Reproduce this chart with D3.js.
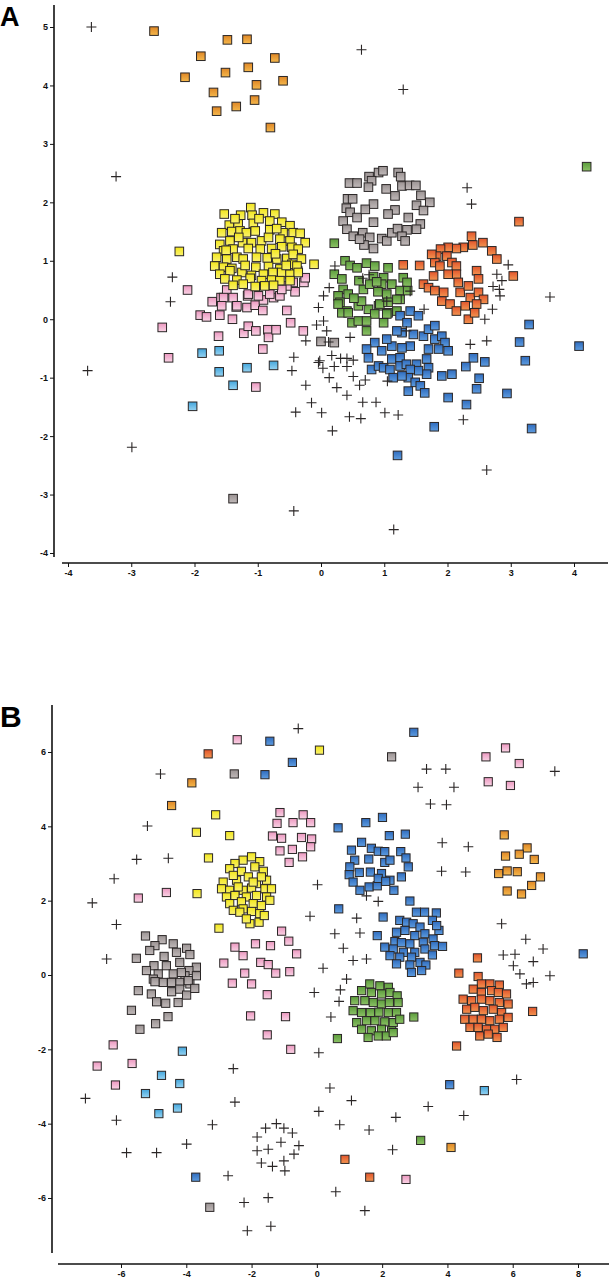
<!DOCTYPE html>
<html><head><meta charset="utf-8">
<script src="https://cdn.jsdelivr.net/npm/d3@7"></script>
<style>html,body{margin:0;padding:0;background:#fff}</style>
</head><body>
<svg id="c" width="613" height="1280"></svg>
<script>
// ---------- Panel A data ----------
const aTicksX = [-4,-3,-2,-1,0,1,2,3,4];
const aTicksY = [-4,-3,-2,-1,0,1,2,3,4,5];
const aOrange = [[-2.64,4.93],[-1.48,4.78],[-1.17,4.79],[-1.90,4.50],[-0.73,4.47],[-2.15,4.14],[-1.51,4.22],[-1.15,4.31],[-0.60,4.08],[-1.02,4.01],[-1.70,3.88],[-1.05,3.75],[-1.34,3.64],[-1.65,3.56],[-0.80,3.28]];
const aRed = [[3.13,1.67],[3.04,0.74],[1.30,0.93],[2.38,1.42],[2.56,1.31],[2.25,1.23],[2.40,1.27],[2.70,1.17],[2.78,1.03],[2.14,1.21],[2.01,1.23],[1.89,1.20],[1.83,1.08],[1.80,0.97],[1.56,0.92],[1.75,1.11],[1.99,1.08],[2.07,0.97],[1.88,0.91],[2.14,0.91],[1.78,0.74],[1.62,0.60],[1.70,0.54],[1.80,0.49],[1.94,0.46],[1.91,0.31],[2.04,0.26],[2.20,0.46],[2.33,0.57],[2.14,0.77],[2.01,0.77],[2.17,0.63],[2.36,0.37],[2.49,0.46],[2.57,0.34],[2.46,0.26],[2.28,0.23],[2.14,0.14],[2.46,0.83],[2.49,0.69],[2.33,0.00],[2.43,0.11]];
const aYellow = [[-1.53,1.80],[-1.27,1.78],[-1.11,1.91],[-1.09,1.78],[-0.91,1.82],[-0.73,1.80],[-1.45,1.61],[-1.31,1.63],[-1.07,1.64],[-0.81,1.68],[-0.62,1.66],[-0.49,1.60],[-1.57,1.48],[-1.41,1.50],[-1.28,1.51],[-1.18,1.48],[-1.04,1.51],[-0.81,1.53],[-0.60,1.48],[-0.44,1.48],[-0.33,1.47],[-1.60,1.28],[-1.44,1.34],[-1.24,1.31],[-1.10,1.31],[-0.94,1.34],[-0.83,1.40],[-0.65,1.37],[-0.49,1.34],[-0.25,1.31],[-1.54,1.17],[-1.39,1.20],[-1.15,1.21],[-0.96,1.20],[-0.78,1.21],[-0.62,1.24],[-0.46,1.23],[-0.36,1.20],[-1.65,1.06],[-1.49,1.03],[-1.33,1.06],[-1.23,1.03],[-1.02,1.06],[-0.70,1.03],[-0.54,1.04],[-0.44,1.11],[-0.31,1.03],[-0.11,0.94],[-1.68,0.91],[-1.54,0.89],[-1.41,0.87],[-1.03,0.89],[-0.83,0.91],[-0.65,0.86],[-0.46,0.94],[-0.38,0.91],[-1.60,0.77],[-1.44,0.83],[-1.25,0.80],[-1.10,0.75],[-0.91,0.77],[-0.76,0.80],[-0.62,0.80],[-0.49,0.77],[-0.36,0.80],[-1.52,0.69],[-1.33,0.67],[-1.12,0.70],[-0.94,0.66],[-0.78,0.67],[-0.65,0.66],[-0.49,0.66],[-1.39,0.58],[-1.23,0.60],[-1.04,0.56],[-0.89,0.57],[-0.75,0.58],[-2.24,1.16],[-1.36,1.72],[-0.98,1.72],[-0.70,1.55],[-1.50,1.18],[-0.85,1.05],[-1.20,0.92],[-0.55,0.92],[-1.30,1.40],[-0.72,1.12]];
const aPink = [[-2.11,0.50],[-2.51,-0.14],[-2.41,-0.66],[-1.91,0.07],[-1.81,0.04],[-1.60,0.07],[-1.72,0.30],[-1.58,0.37],[-1.49,0.50],[-1.40,0.00],[-1.39,0.37],[-1.34,0.21],[-1.17,0.20],[-1.16,0.40],[-1.04,0.24],[-0.92,0.15],[-0.91,0.33],[-0.99,0.40],[-0.75,0.37],[-0.65,0.40],[-0.54,0.15],[-0.48,-0.06],[-0.41,0.47],[-0.44,0.63],[-0.28,-0.20],[-1.62,-0.29],[-1.22,-0.24],[-1.15,-0.12],[-1.03,-0.20],[-0.84,-0.18],[-0.83,-0.31],[-0.71,-0.18],[-0.92,-0.51],[-1.03,-1.16],[-0.27,0.63],[-0.37,0.83],[-0.25,0.71],[-0.54,0.57],[-0.62,0.51],[-0.81,0.43],[-1.15,0.43],[-1.33,0.23],[-1.54,0.37],[-1.57,0.23]];
const aLightBlue = [[-1.88,-0.58],[-1.61,-0.54],[-1.61,-0.90],[-1.39,-1.13],[-1.17,-0.83],[-0.75,-0.79],[-2.03,-1.49]];
const aGray = [[0.91,2.51],[0.98,2.54],[0.76,2.44],[0.80,2.37],[1.22,2.51],[1.26,2.44],[0.45,2.33],[0.57,2.33],[0.75,2.26],[1.28,2.28],[1.40,2.29],[1.50,2.29],[1.03,2.23],[1.17,2.11],[1.58,2.12],[1.72,2.00],[0.42,2.06],[0.50,2.06],[0.83,1.97],[0.40,1.90],[0.46,1.83],[0.57,1.74],[0.70,1.88],[1.17,1.87],[1.06,1.80],[1.51,1.95],[1.62,1.86],[0.35,1.68],[0.41,1.54],[1.38,1.74],[1.57,1.63],[0.83,1.66],[0.66,1.48],[0.77,1.40],[0.51,1.42],[0.96,1.38],[1.04,1.34],[1.12,1.48],[1.21,1.55],[1.36,1.53],[1.28,1.42],[1.33,1.34],[1.51,1.54],[0.68,1.27],[0.83,1.21],[0.61,1.37],[-1.39,-3.07],[0.00,-0.38],[0.21,-0.40]];
const aGreen = [[0.21,1.30],[0.38,1.00],[0.46,0.92],[0.57,0.88],[0.72,0.96],[0.85,0.91],[1.06,0.88],[1.30,0.71],[1.36,0.63],[0.21,0.77],[0.33,0.69],[0.35,0.51],[0.43,0.43],[0.67,0.51],[0.83,0.73],[0.99,0.71],[0.96,0.60],[0.77,0.60],[1.12,0.60],[1.25,0.49],[1.04,0.43],[1.25,0.34],[0.27,0.40],[0.30,0.29],[0.41,0.14],[0.59,0.23],[0.75,0.17],[0.91,0.23],[1.06,0.11],[1.20,0.14],[0.27,0.26],[0.33,0.11],[0.43,0.11],[0.49,-0.06],[0.64,0.31],[0.93,0.26],[1.06,0.29],[1.20,0.34],[0.85,0.09],[1.04,0.09],[0.59,-0.03],[0.72,-0.03],[0.99,-0.06],[0.72,-0.20],[0.60,0.66],[0.88,0.64],[0.52,0.36],[0.90,0.47],[1.37,0.49],[4.20,2.61]];
const aBlue = [[1.41,0.14],[1.54,0.06],[1.25,0.06],[1.36,-0.06],[1.28,-0.23],[1.20,-0.20],[1.46,-0.26],[1.62,-0.29],[1.70,-0.17],[1.80,-0.11],[1.80,-0.34],[1.91,-0.29],[1.96,-0.40],[1.86,-0.51],[2.01,-0.54],[1.70,-0.51],[1.41,-0.46],[1.28,-0.49],[1.12,-0.46],[1.04,-0.34],[0.85,-0.40],[0.72,-0.51],[0.96,-0.54],[0.75,-0.66],[0.80,-0.86],[0.91,-0.80],[0.99,-0.83],[1.09,-0.86],[1.12,-0.68],[1.25,-0.66],[1.25,-0.80],[1.35,-0.77],[1.51,-0.77],[1.67,-0.68],[1.70,-0.83],[1.67,-0.94],[1.54,-0.88],[1.41,-0.86],[1.38,-1.00],[1.28,-0.97],[1.14,-1.00],[1.49,-1.08],[1.57,-1.14],[1.38,-1.23],[1.64,-1.26],[1.91,-0.97],[2.07,-0.94],[2.01,-1.34],[2.41,-0.66],[2.29,-0.81],[2.59,-0.73],[2.50,-1.01],[2.46,-1.19],[2.30,-1.46],[2.94,-1.27],[1.79,-1.84],[1.21,-2.33],[3.33,-1.87],[3.29,-0.09],[3.14,-0.39],[3.23,-0.71],[4.08,-0.46]];
const aCross = [[-3.63,5.00],[-3.24,2.44],[-2.35,0.72],[0.64,4.61],[1.30,3.93],[2.31,2.25],[2.38,1.97],[2.96,0.93],[3.62,0.38],[-2.38,0.30],[-3.69,-0.88],[-2.99,-2.19],[-0.43,-3.28],[-0.43,-0.65],[-0.46,-0.88],[-0.24,-1.13],[-0.15,-1.43],[-0.40,-1.59],[-0.24,-0.37],[-0.07,-0.10],[-0.04,0.20],[-0.04,-0.74],[0.13,0.54],[0.04,0.40],[0.04,-0.03],[0.09,-0.20],[0.46,-0.31],[0.17,-0.62],[-0.02,-0.71],[0.03,-0.84],[0.21,-0.81],[0.31,-0.67],[0.41,-0.67],[0.51,-0.70],[0.41,-0.81],[0.13,-1.00],[0.51,-0.98],[0.61,-1.13],[0.70,-1.04],[0.25,-1.17],[0.41,-1.30],[0.66,-1.42],[0.87,-1.42],[0.01,-1.60],[0.45,-1.67],[0.63,-1.70],[1.01,-1.60],[1.22,-1.64],[0.18,-1.91],[1.05,-1.06],[2.36,-0.43],[2.62,-0.37],[2.25,-1.72],[2.62,-2.58],[1.15,-3.60],[2.82,0.51],[2.83,0.40],[2.72,0.56],[2.71,0.17],[2.59,0.00],[1.63,0.17],[1.35,-0.20],[0.22,0.91],[0.66,0.70],[0.76,0.76],[1.04,0.31],[1.41,0.48],[2.78,0.77],[2.86,0.66],[0.12,-0.39]];

// ---------- Panel B data ----------
const bTicksX = [-6,-4,-2,0,2,4,6,8];
const bTicksY = [-6,-4,-2,0,2,4,6];
const bOrange = [[-3.83,5.17],[-4.45,4.56],[5.74,3.77],[6.44,3.42],[6.20,3.25],[5.78,3.20],[6.66,3.11],[5.57,2.73],[5.83,2.80],[6.14,2.78],[6.85,2.64],[6.58,2.41],[5.83,2.26],[6.27,2.18],[4.11,-4.64]];
const bRed = [[-3.33,5.95],[4.92,0.46],[4.35,0.05],[4.94,-0.04],[6.61,-0.98],[4.28,-1.91],[0.86,-4.96],[1.62,-5.44],[5.04,-0.24],[5.30,-0.24],[5.59,-0.27],[4.79,-0.38],[5.04,-0.47],[5.35,-0.42],[5.56,-0.47],[5.81,-0.51],[4.48,-0.65],[4.74,-0.69],[5.04,-0.65],[5.30,-0.69],[5.59,-0.74],[5.86,-0.78],[4.59,-0.92],[4.84,-0.87],[5.10,-0.96],[5.40,-0.92],[5.66,-1.01],[4.53,-1.19],[4.79,-1.19],[5.04,-1.19],[5.30,-1.23],[5.59,-1.19],[5.86,-1.14],[4.69,-1.41],[4.94,-1.41],[5.20,-1.46],[5.45,-1.46],[5.71,-1.41],[4.99,-1.64],[5.25,-1.59],[5.52,-1.68]];
const bYellow = [[0.08,6.05],[-3.10,4.31],[-3.69,3.84],[-2.67,3.75],[-3.32,3.15],[-3.67,2.19],[-3.00,1.26],[-2.00,3.18],[-2.26,3.09],[-2.51,3.00],[-1.75,3.05],[-2.67,2.86],[-2.31,2.79],[-1.90,2.91],[-1.64,2.79],[-2.87,2.50],[-2.46,2.55],[-2.10,2.64],[-1.85,2.46],[-1.54,2.55],[-2.92,2.32],[-2.67,2.28],[-2.26,2.28],[-2.00,2.34],[-1.59,2.32],[-1.39,2.32],[-2.77,2.10],[-2.51,2.14],[-2.16,2.10],[-1.85,2.14],[-1.54,2.10],[-2.67,1.92],[-2.31,1.97],[-1.95,1.92],[-1.70,1.87],[-1.44,2.01],[-2.56,1.74],[-2.26,1.78],[-2.00,1.71],[-1.75,1.65],[-2.05,1.38],[-1.77,1.42],[-1.61,1.60],[-2.36,1.69],[-2.16,1.51],[-2.41,2.37],[-1.70,2.64],[-2.56,2.68],[-1.95,2.50]];
const bPink = [[-2.44,6.33],[5.78,6.11],[5.18,5.87],[6.20,5.69],[5.25,5.20],[5.93,5.10],[-5.47,2.07],[-4.61,2.22],[-1.13,4.37],[-0.73,4.10],[-0.42,4.31],[-0.19,4.10],[-1.22,4.08],[-1.36,3.74],[-1.08,3.68],[-0.47,3.70],[-0.16,3.66],[-0.19,3.45],[-1.13,3.34],[-0.75,3.38],[-0.44,3.18],[-0.85,3.03],[-1.08,1.18],[-0.86,0.91],[-2.51,0.75],[-1.88,0.84],[-1.42,0.79],[-2.26,0.52],[-0.62,0.57],[-2.85,0.32],[-1.72,0.34],[-1.49,0.28],[-1.26,0.05],[-0.83,0.09],[-2.21,0.05],[-2.59,-0.22],[-2.00,-0.24],[-1.52,-0.53],[-2.03,-1.10],[-0.96,-1.12],[-1.52,-1.61],[-0.80,-2.00],[-6.24,-1.88],[-5.66,-2.38],[-6.73,-2.45],[-6.17,-2.96],[2.73,-5.50]];
const bLightBlue = [[-4.12,-2.05],[-4.76,-2.70],[-4.20,-2.92],[-5.25,-3.19],[-4.84,-3.73],[-4.27,-3.58],[5.13,-3.11]];
const bBlue = [[-1.44,6.29],[-1.59,5.39],[-0.75,5.72],[2.97,6.53],[0.65,3.96],[1.50,4.10],[2.01,4.24],[2.22,3.75],[2.71,3.79],[0.67,1.78],[2.85,1.99],[2.03,1.56],[1.85,1.06],[3.74,1.20],[8.16,0.57],[-3.71,-5.44],[4.07,-2.95],[1.37,3.57],[1.06,3.36],[1.67,3.41],[1.88,3.33],[2.08,3.32],[2.57,3.32],[1.16,3.09],[1.59,3.12],[2.08,3.03],[2.24,3.09],[2.73,3.15],[2.80,2.91],[1.01,2.91],[1.30,2.76],[1.64,2.77],[1.98,2.73],[2.24,2.55],[2.59,2.64],[0.99,2.70],[1.11,2.50],[1.32,2.28],[1.60,2.37],[1.85,2.40],[1.88,2.60],[2.11,2.52],[2.36,2.28],[3.05,1.69],[3.30,1.69],[3.66,1.67],[2.54,1.47],[2.75,1.42],[2.95,1.38],[3.16,1.29],[3.54,1.47],[3.67,1.33],[2.44,1.15],[2.70,1.20],[3.00,1.06],[3.31,1.11],[2.39,0.90],[2.59,0.87],[2.85,0.84],[3.26,0.88],[3.56,0.97],[2.08,0.75],[2.34,0.70],[2.65,0.61],[3.00,0.61],[3.31,0.70],[3.61,0.79],[3.85,0.77],[2.24,0.52],[2.54,0.48],[2.90,0.48],[3.54,0.54],[2.44,0.30],[2.85,0.27],[3.16,0.34],[3.34,0.27],[2.90,0.07],[3.21,0.12]];
const bGray = [[-2.53,5.41],[2.29,5.87],[-5.47,-0.42],[-5.68,-0.95],[-5.42,-1.46],[-4.94,-1.31],[-4.56,-1.12],[-3.28,-6.25],[-5.25,1.05],[-4.74,0.95],[-4.40,0.84],[-4.96,0.79],[-3.99,0.72],[-3.89,0.55],[-5.12,0.66],[-4.68,0.50],[-4.30,0.61],[-5.53,0.45],[-3.69,0.21],[-4.99,0.25],[-4.61,0.25],[-4.20,0.34],[-3.92,0.12],[-4.86,0.03],[-4.40,0.03],[-4.04,-0.02],[-3.69,-0.02],[-5.22,0.12],[-5.01,-0.11],[-4.71,-0.20],[-4.20,-0.20],[-3.89,-0.24],[-4.15,0.07],[-4.96,-0.18],[-4.45,-0.20],[-3.94,-0.15],[-4.45,-0.45],[-4.20,-0.38],[-3.99,-0.54],[-3.74,-0.36],[-5.07,-0.51],[-4.91,-0.72],[-4.63,-0.76],[-4.25,-0.74]];
const bGreen = [[1.62,-0.24],[1.93,-0.29],[2.19,-0.33],[1.37,-0.42],[1.67,-0.47],[1.98,-0.51],[2.24,-0.47],[2.46,-0.56],[1.16,-0.69],[1.47,-0.69],[1.73,-0.74],[1.98,-0.78],[2.22,-0.74],[2.49,-0.74],[1.11,-0.96],[1.37,-1.01],[1.64,-1.01],[2.19,-1.01],[2.44,-1.01],[1.22,-1.28],[1.52,-1.23],[1.78,-1.23],[2.08,-1.26],[2.34,-1.28],[2.54,-1.19],[1.37,-1.46],[1.67,-1.50],[1.98,-1.46],[2.29,-1.50],[1.57,-1.68],[1.88,-1.64],[2.13,-1.64],[2.34,-1.55],[1.90,-1.00],[2.97,-1.13],[0.63,-1.71],[3.18,-4.45]];
const bCross = [[-0.57,6.63],[-4.79,5.41],[-5.19,4.01],[-5.52,3.11],[-4.55,3.14],[-6.21,2.59],[-6.88,1.94],[-6.14,1.36],[-6.44,0.43],[-0.21,1.58],[0.02,2.43],[3.36,5.54],[3.95,5.54],[3.10,5.05],[4.20,5.05],[3.48,4.60],[3.97,4.58],[7.29,5.48],[3.84,3.56],[4.64,3.45],[3.82,2.79],[4.56,2.77],[1.52,2.13],[1.88,1.98],[1.22,1.53],[1.32,1.13],[0.55,1.11],[0.81,0.72],[1.11,0.39],[1.52,0.43],[0.19,0.18],[0.91,-0.11],[5.66,1.38],[6.40,0.96],[6.93,0.70],[5.71,0.54],[6.07,0.56],[6.63,0.36],[6.02,0.25],[6.22,0.03],[7.14,-0.02],[6.42,-0.24],[6.63,-0.20],[-0.08,-0.47],[0.72,-0.40],[0.68,-0.71],[0.43,-1.13],[0.06,-2.09],[0.40,-3.04],[1.06,-3.38],[0.06,-3.67],[0.70,-4.03],[1.60,-4.17],[2.42,-3.83],[3.41,-3.54],[4.50,-3.78],[2.32,-4.70],[0.58,-5.83],[1.47,-6.34],[6.12,-2.81],[-7.09,-3.32],[-6.14,-3.91],[-5.83,-4.78],[-4.91,-4.78],[-3.99,-4.55],[-3.20,-4.03],[-2.56,-2.52],[-2.51,-3.42],[-2.72,-5.40],[-2.23,-6.12],[-1.49,-5.99],[-2.13,-6.88],[-1.41,-6.76],[-1.57,-4.12],[-1.24,-4.00],[-1.01,-4.12],[-0.75,-4.25],[-1.83,-4.36],[-1.10,-4.50],[-0.55,-4.59],[-1.83,-4.73],[-1.49,-4.69],[-0.70,-4.82],[-1.70,-5.06],[-1.36,-5.15],[-1.01,-5.00],[-0.98,-5.27]];

// ---------- drawing ----------
const svg = d3.select("#c");
const COLORS = {
  orange:["#DE8626","#F5B84C"], red:["#E2552C","#F29450"], yellow:["#F2E61C","#FAF270"],
  pink:["#EC98C0","#F9D2E4"], lightBlue:["#44A6DC","#95D3F2"], blue:["#2F6CBE","#5E9CDF"],
  gray:["#9B9393","#C0B9B9"], green:["#5C9C3C","#8CC266"]
};
const defs = svg.append("defs");
Object.entries(COLORS).forEach(([k,[a,b]]) => {
  const g = defs.append("linearGradient").attr("id","g-"+k)
    .attr("x1",0).attr("y1",0).attr("x2",0).attr("y2",1);
  g.append("stop").attr("offset","0%").attr("stop-color",a);
  g.append("stop").attr("offset","100%").attr("stop-color",b);
});

function panel(p){
  const x = d3.scaleLinear().domain(p.xDom).range(p.xRange);
  const y = d3.scaleLinear().domain(p.yDom).range(p.yRange);
  const g = svg.append("g");
  const styleAxis = sel => {
    sel.select(".domain").remove();
    sel.selectAll(".tick line").attr("stroke","#111").attr("stroke-width",1);
    sel.selectAll(".tick text").attr("fill","#111").style("font-family","Arial, 'Liberation Sans', sans-serif")
      .style("font-size","9px").style("font-weight","bold");
  };
  const ya = g.append("g").attr("transform",`translate(${p.yAxisX},0)`)
    .call(d3.axisLeft(y).tickValues(p.yTicks).tickFormat(d=>String(d)).tickSize(4).tickPadding(2));
  styleAxis(ya);
  ya.append("line").attr("x1",0).attr("x2",0).attr("y1",p.yLine[0]).attr("y2",p.yLine[1])
    .attr("stroke","#111").attr("stroke-width",1.6);
  const xa = g.append("g").attr("transform",`translate(0,${p.xAxisY})`)
    .call(d3.axisBottom(x).tickValues(p.xTicks).tickFormat(d=>String(d)).tickSize(4).tickPadding(3));
  styleAxis(xa);
  xa.append("line").attr("y1",0).attr("y2",0).attr("x1",p.xLine[0]).attr("x2",p.xLine[1])
    .attr("stroke","#111").attr("stroke-width",1.6);

  const s = p.size;
  p.layers.forEach(L => {
    g.append("g").selectAll("rect").data(L.data).join("rect")
      .attr("x", d => x(d[0]) - s/2).attr("y", d => y(d[1]) - s/2)
      .attr("width", s).attr("height", s)
      .attr("fill", `url(#g-${L.color})`).attr("stroke","#2a2626").attr("stroke-width",1);
  });
  g.append("g").selectAll("path").data(p.crosses).join("path")
    .attr("transform", d => `translate(${x(d[0])},${y(d[1])})`)
    .attr("d","M-5,0H5M0,-5V5").attr("stroke","#2a2626").attr("stroke-width",1.1).attr("fill","none");

  svg.append("text").attr("x",p.label[1]).attr("y",p.label[2]).text(p.label[0])
    .style("font-family","Arial, 'Liberation Sans', sans-serif").style("font-weight","bold")
    .style("font-size",p.label[3]+"px").attr("fill","#000");
}

panel({
  xDom:[-4,4], xRange:[68,574], yDom:[-4,5], yRange:[553,27],
  yAxisX:54, yLine:[5,557], xAxisY:563, xLine:[62,608],
  xTicks:aTicksX, yTicks:aTicksY, size:8.6,
  layers:[{data:aOrange,color:"orange"},{data:aGray,color:"gray"},{data:aRed,color:"red"},
          {data:aPink,color:"pink"},{data:aYellow,color:"yellow"},{data:aLightBlue,color:"lightBlue"},
          {data:aGreen,color:"green"},{data:aBlue,color:"blue"}],
  crosses:aCross, label:["A",0,26,27]
});
panel({
  xDom:[-6,8], xRange:[121,578], yDom:[-6,6], yRange:[1198,752],
  yAxisX:52, yLine:[705,1253], xAxisY:1264, xLine:[58,609],
  xTicks:bTicksX, yTicks:bTicksY, size:8.2,
  layers:[{data:bGray,color:"gray"},{data:bPink,color:"pink"},{data:bYellow,color:"yellow"},
          {data:bOrange,color:"orange"},{data:bRed,color:"red"},{data:bLightBlue,color:"lightBlue"},
          {data:bBlue,color:"blue"},{data:bGreen,color:"green"}],
  crosses:bCross, label:["B",0,727,30]
});
</script>
</body></html>
